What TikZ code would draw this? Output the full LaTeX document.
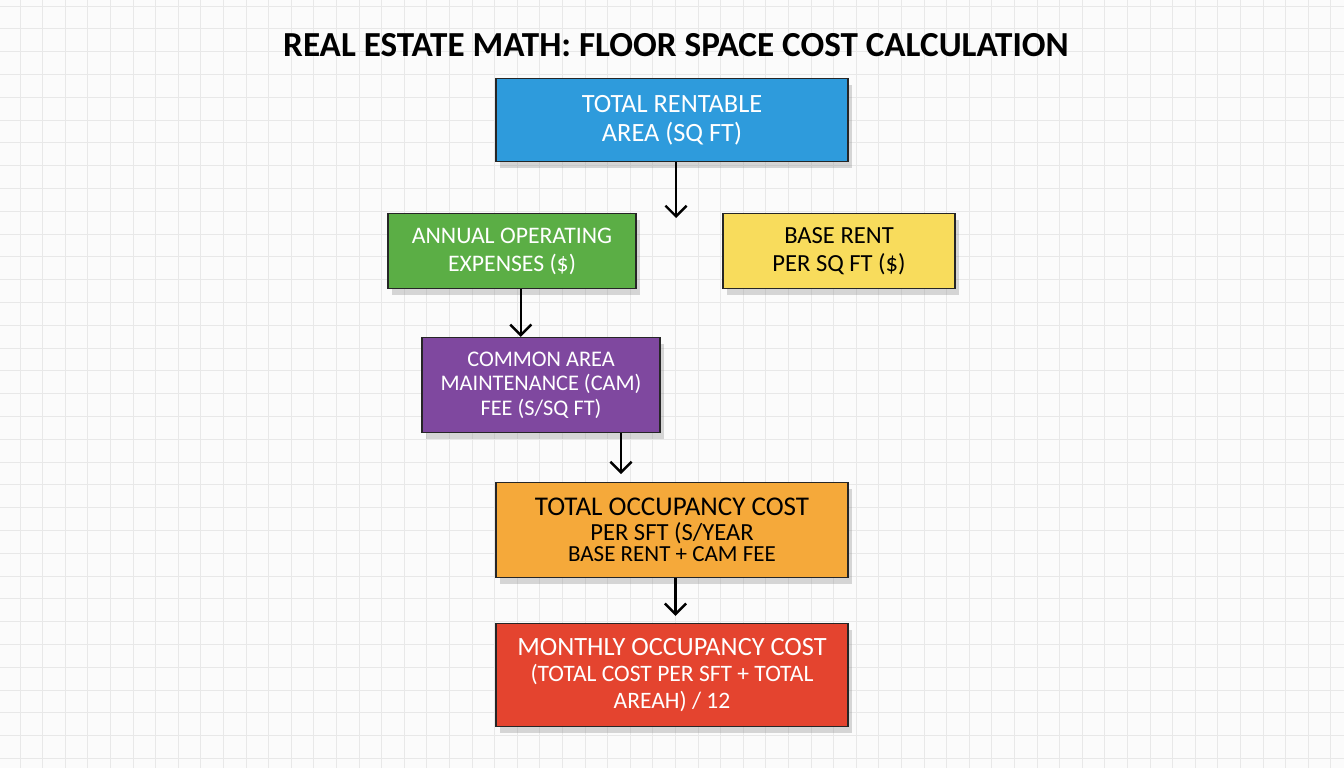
\documentclass[tikz,border=0pt]{standalone}
\usepackage{fontspec}
\setmainfont{Carlito}
\usetikzlibrary{calc,positioning,shadows,arrows.meta}
\definecolor{areablue}{HTML}{2E9BDC}
\definecolor{opexgreen}{HTML}{5BAE45}
\definecolor{rentyellow}{HTML}{F8DC5C}
\definecolor{campurple}{HTML}{7F489F}
\definecolor{occorange}{HTML}{F5A93A}
\definecolor{monthred}{HTML}{E4442F}
\definecolor{paper}{HTML}{FBFBFB}
\tikzset{
  box/.style={rectangle, draw=black!85, line width=0.8pt, align=center, inner sep=2pt,
    drop shadow={shadow xshift=2.5pt, shadow yshift=-3.5pt, opacity=0.3}},
  line/.style={draw, line width=1.4pt, -{Straight Barb[length=6pt,width=12pt,line width=1.4pt]}},
  gridline/.style={draw=black!9, line width=0.5pt}
}

\begin{document}
\begin{tikzpicture}[x=0.02cm,y=-0.02cm]
  % paper and grid
  \useasboundingbox (0,0) rectangle (1344,768);
  \fill[paper] (0,0) rectangle (1344,768);
  \foreach \gx in {0,...,59}
    \draw[gridline] (20+22.6*\gx,0) -- (20+22.6*\gx,768);
  \foreach \gy in {0,...,33}
    \draw[gridline] (0,6+22.8*\gy) -- (1344,6+22.8*\gy);

  \node[font={\fontsize{20}{24}\selectfont\bfseries}] (title) at (676,45) {REAL ESTATE MATH: FLOOR SPACE COST CALCULATION};

  \node[box, fill=areablue, text=white, minimum width=7.04cm, minimum height=1.66cm,
    font={\fontsize{15}{16.5}\selectfont}] (area) at (672,120)
    {TOTAL RENTABLE\\ AREA (SQ FT)};
  \node[box, fill=opexgreen, text=white, minimum width=4.96cm, minimum height=1.5cm,
    font={\fontsize{13.5}{16}\selectfont}] (opex) at (512,251)
    {ANNUAL OPERATING\\ EXPENSES (\$)};
  \node[box, fill=rentyellow, text=black, minimum width=4.64cm, minimum height=1.5cm,
    font={\fontsize{14}{16}\selectfont}] (rent) at (839,251)
    {BASE RENT\\ PER SQ FT (\$)};
  \node[box, fill=campurple, text=white, minimum width=4.76cm, minimum height=1.9cm,
    font={\fontsize{12.7}{13.9}\selectfont}] (cam) at (541,385)
    {COMMON AREA\\ MAINTENANCE (CAM)\\ FEE (S/SQ FT)};
  \node[box, fill=occorange, text=black, minimum width=7.04cm, minimum height=1.9cm,
    font={\fontsize{14}{12}\selectfont}] (occ) at (672,530)
    {\fontsize{15.4}{12}\selectfont TOTAL OCCUPANCY COST\\[2.5pt] PER SFT (S/YEAR\\
     \fontsize{13.1}{12}\selectfont BASE RENT + CAM FEE};
  \node[box, fill=monthred, text=white, minimum width=7.04cm, minimum height=2.06cm,
    font={\fontsize{13.4}{15}\selectfont}] (month) at (672,675)
    {\fontsize{15}{15}\selectfont MONTHLY OCCUPANCY COST\\ (TOTAL COST PER SFT + TOTAL\\ AREAH) / 12};

  % free ends of the arrows
  \coordinate (split) at (676,218);
  \coordinate (tocc) at (621,474);

  \path[line] (area.south -| split) -- (split);
  \path[line] ([xshift=5pt]opex.south) -- ([xshift=5pt]opex.south |- cam.north);
  \path[line] (cam.south -| tocc) -- (tocc);
  \path[line, shorten >=4pt] ([xshift=2pt]occ.south) -- ([xshift=2pt]month.north);
\end{tikzpicture}
\end{document}
